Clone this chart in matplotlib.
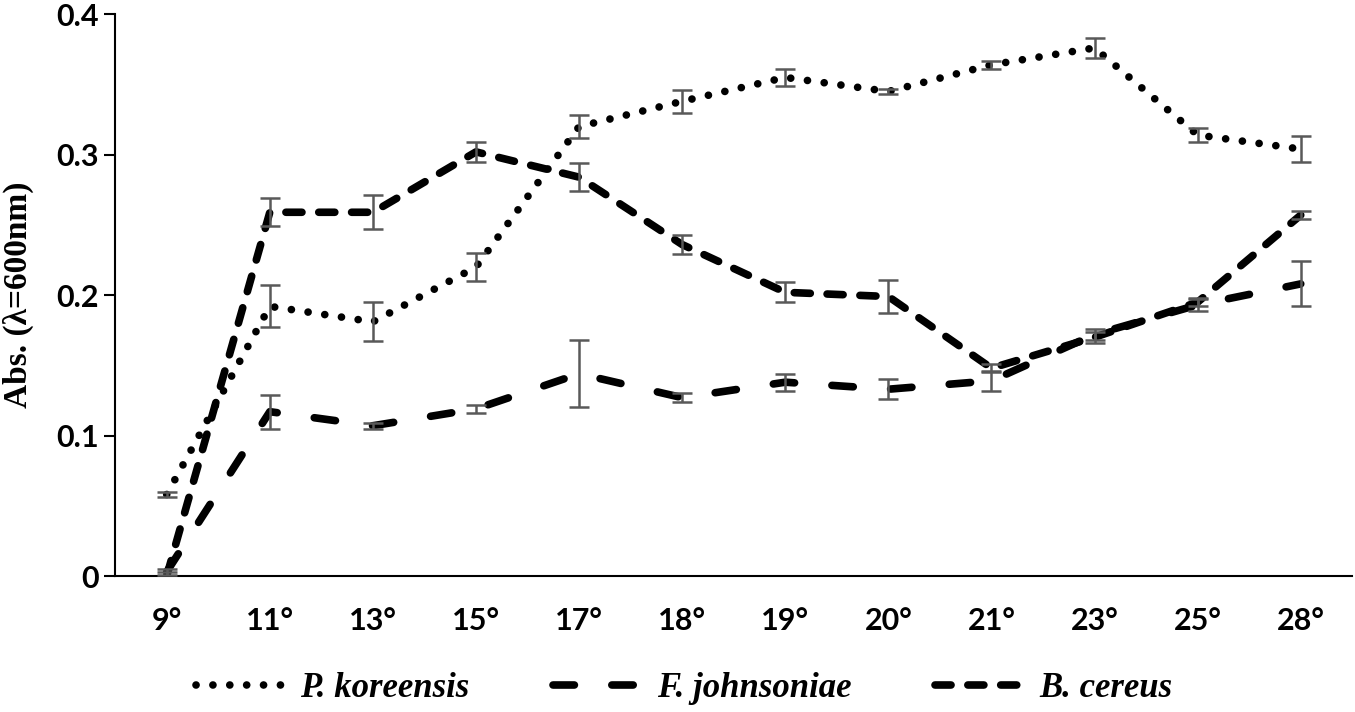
import numpy as np
import matplotlib.pyplot as plt
from matplotlib.lines import Line2D

temps = ['9°', '11°', '13°', '15°', '17°', '18°', '19°', '20°', '21°', '23°', '25°', '28°']

# P. koreensis (dotted)
pk = [0.058, 0.192, 0.181, 0.220, 0.320, 0.338, 0.355, 0.345, 0.364, 0.376, 0.314, 0.304]
pk_err = [0.002, 0.015, 0.014, 0.010, 0.008, 0.008, 0.006, 0.002, 0.003, 0.007, 0.005, 0.009]

# F. johnsoniae (long dash)
fj = [0.003, 0.117, 0.107, 0.119, 0.144, 0.127, 0.138, 0.133, 0.139, 0.172, 0.193, 0.208]
fj_err = [0.002, 0.012, 0.002, 0.003, 0.024, 0.003, 0.006, 0.007, 0.007, 0.004, 0.004, 0.016]

# B. cereus (medium dash)
bc = [0.000, 0.259, 0.259, 0.302, 0.284, 0.236, 0.202, 0.199, 0.148, 0.170, 0.195, 0.257]
bc_err = [0.003, 0.010, 0.012, 0.007, 0.010, 0.007, 0.007, 0.012, 0.003, 0.004, 0.003, 0.003]

names = ['P. koreensis', 'F. johnsoniae', 'B. cereus']

lw = 5.5
styles = {
    'P. koreensis': (0, (0.01, 2.2)),
    'F. johnsoniae': (0, (2.8, 4.9)),
    'B. cereus': (0, (2.1, 2.2)),
}

fig = plt.figure(figsize=(13.55, 7.12), dpi=100)
ax = fig.add_axes([0.085, 0.191, 0.913, 0.789])

x = np.arange(len(temps))
series = [(pk, pk_err), (fj, fj_err), (bc, bc_err)]
for name, (vals, errs) in zip(names, series):
    ax.plot(x, vals, color='black', lw=lw, linestyle=styles[name],
            dash_capstyle='round', solid_capstyle='round', zorder=2)
    ax.errorbar(x, vals, yerr=errs, fmt='none', ecolor='#595959',
                elinewidth=1.8, capsize=7, capthick=1.8, zorder=3)

ax.set_xlim(-0.5, len(temps) - 0.5)
ax.set_ylim(0, 0.4)
ax.set_yticks([0, 0.1, 0.2, 0.3, 0.4])
ax.set_yticklabels(['0', '0.1', '0.2', '0.3', '0.4'])
ax.set_xticks(x)
ax.set_xticklabels(temps)

for s in ['top', 'right']:
    ax.spines[s].set_visible(False)
ax.spines['left'].set_linewidth(1.5)
ax.spines['bottom'].set_linewidth(1.5)
ax.tick_params(axis='y', direction='out', length=8, width=1.5, pad=4)
ax.tick_params(axis='x', length=0, pad=22)
for lab in ax.get_xticklabels() + ax.get_yticklabels():
    lab.set_fontfamily('Lato')
    lab.set_fontweight('bold')
    lab.set_fontsize(22)

ax.set_ylabel('Abs. (λ=600nm)', fontfamily='Liberation Serif', fontweight='bold',
              fontsize=24, labelpad=16)

handles = [Line2D([], [], color='black', lw=lw, linestyle=styles[n],
                  dash_capstyle='round', solid_capstyle='round') for n in names]
leg = fig.legend(handles, names, loc='center', bbox_to_anchor=(0.505, 0.033), ncol=3,
                 frameon=False, handlelength=2.6, columnspacing=2.4, handletextpad=0.4,
                 prop={'family': 'Liberation Serif', 'weight': 'bold', 'style': 'italic', 'size': 25})

fig.savefig('out.png', dpi=100)
